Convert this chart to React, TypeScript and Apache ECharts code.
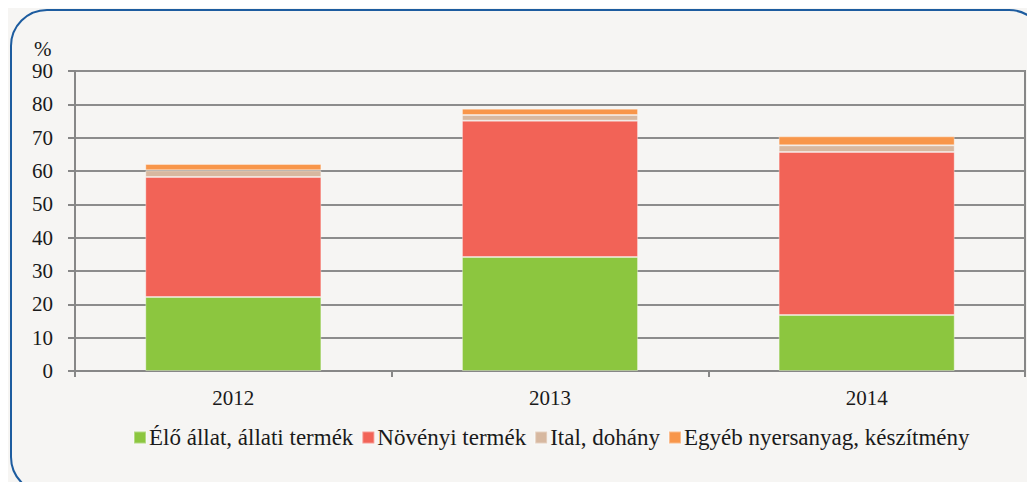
import React, { useEffect, useRef } from "react";
import * as echarts from "echarts";

const categories = ["2012", "2013", "2014"];
const eloAllat = [22.2, 34.2, 16.8];
const novenyi = [36.0, 40.9, 48.9];
const ital = [2.0, 1.7, 2.0];
const egyeb = [1.9, 1.9, 2.7];
const seriesNames = [
  "Élő állat, állati termék",
  "Növényi termék",
  "Ital, dohány",
  "Egyéb nyersanyag, készítmény",
];
const colors = ["#8cc63f", "#f26357", "#d7b8a0", "#f8964a"];

export default function App() {
  const ref = useRef<HTMLDivElement>(null);
  useEffect(() => {
    const chart = echarts.init(ref.current!, null, { renderer: "svg" });
    const font = "Liberation Serif";
    const data = [eloAllat, novenyi, ital, egyeb];
    chart.setOption({
      animation: false,
      backgroundColor: "#f6f5f3",
      textStyle: { fontFamily: font },
      graphic: [
        {
          type: "rect",
          shape: { x: 11, y: 10, width: 1034, height: 483, r: 36 },
          style: { fill: "none", stroke: "#1d5c9f", lineWidth: 2 },
          silent: true,
          z: 100,
        },
        {
          type: "text",
          x: 34,
          y: 38,
          style: { text: "%", fontSize: 21, fontFamily: font, fill: "#1a1a1a" },
        },
      ],
      grid: {
        left: 75,
        right: 10,
        top: 71,
        bottom: 119,
        show: true,
        borderColor: "#878787",
        borderWidth: 2,
        backgroundColor: "transparent",
      },
      legend: {
        bottom: 36,
        left: 128,
        itemWidth: 12,
        itemHeight: 12,
        itemGap: 8,
        icon: "rect",
        textStyle: { fontSize: 23, fontFamily: font, color: "#1a1a1a", padding: [0, 0, 0, -2] },
        data: seriesNames,
      },
      xAxis: {
        type: "category",
        data: categories,
        axisLine: { lineStyle: { color: "#878787", width: 2 } },
        axisTick: { show: true, length: 6, lineStyle: { color: "#878787", width: 2 } },
        axisLabel: { fontSize: 21, color: "#1a1a1a", margin: 16, fontFamily: font },
      },
      yAxis: {
        type: "value",
        min: 0,
        max: 90,
        interval: 10,
        axisLine: { show: true, lineStyle: { color: "#878787", width: 2 } },
        axisTick: { show: true, length: 7, lineStyle: { color: "#878787", width: 2 } },
        axisLabel: { fontSize: 21, color: "#1a1a1a", margin: 22, fontFamily: font },
        splitLine: { lineStyle: { color: "#8c8c8c", width: 2 } },
      },
      series: seriesNames.map((name, i) => ({
        name,
        type: "bar",
        stack: "total",
        barWidth: "55.6%",
        data: data[i],
        itemStyle: { color: colors[i], borderColor: "rgba(255,255,255,0.35)", borderWidth: 1 },
      })),
    });
    return () => chart.dispose();
  }, []);
  return <div ref={ref} style={{ width: 1035, height: 490, margin: -8 }} />;
}
